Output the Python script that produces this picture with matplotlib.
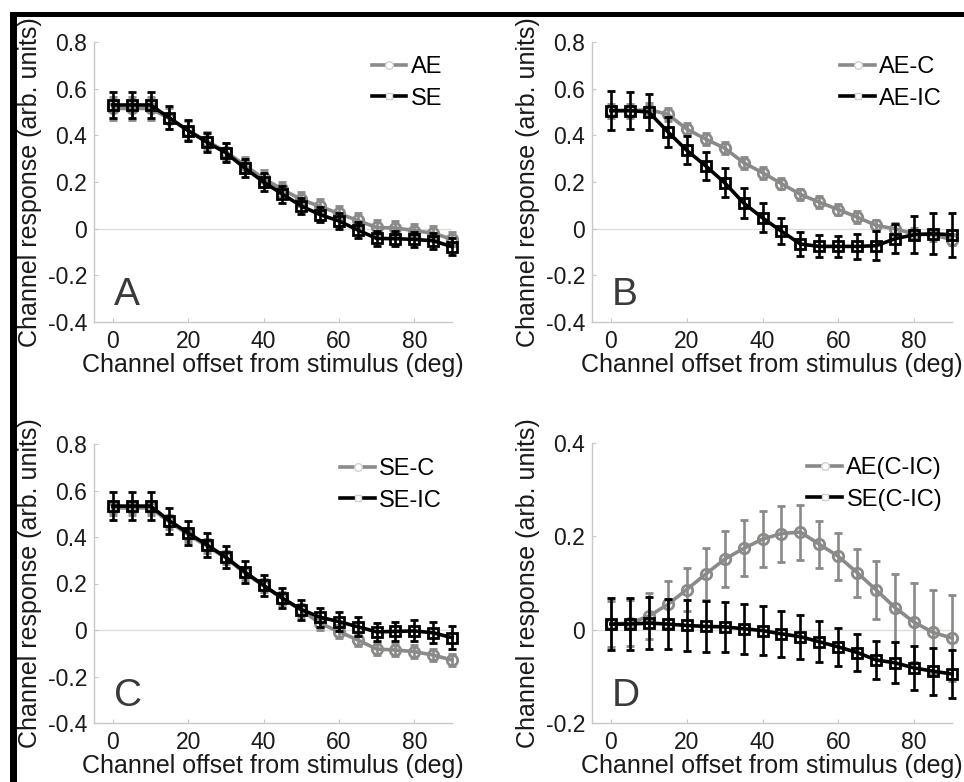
import numpy as np
import matplotlib
matplotlib.use('Agg')
from matplotlib import pyplot as plt
from matplotlib.lines import Line2D
from matplotlib.patches import Rectangle

plt.rcParams['font.family'] = ['Liberation Sans', 'DejaVu Sans']

# channel offsets (deg)
offsets = [0, 5, 10, 15, 20, 25, 30, 35, 40, 45, 50, 55, 60, 65, 70, 75, 80, 85, 90]

# panel A
ae_mean = [0.515, 0.515, 0.515, 0.472, 0.42, 0.375, 0.33, 0.272, 0.215, 0.168, 0.125, 0.095, 0.065, 0.035, 0.005, 0.003, -0.008, -0.02, -0.045]
ae_err = [0.05, 0.05, 0.05, 0.045, 0.04, 0.04, 0.035, 0.035, 0.035, 0.032, 0.03, 0.03, 0.03, 0.03, 0.03, 0.03, 0.03, 0.03, 0.03]
se_mean = [0.53, 0.53, 0.53, 0.475, 0.42, 0.37, 0.325, 0.26, 0.2, 0.148, 0.097, 0.06, 0.033, -0.006, -0.042, -0.043, -0.046, -0.052, -0.077]
se_err = [0.055, 0.055, 0.055, 0.05, 0.045, 0.042, 0.04, 0.04, 0.038, 0.036, 0.035, 0.033, 0.033, 0.033, 0.033, 0.033, 0.033, 0.035, 0.035]

# panel B
aec_mean = [0.505, 0.505, 0.51, 0.49, 0.427, 0.384, 0.345, 0.283, 0.24, 0.193, 0.147, 0.113, 0.082, 0.049, 0.014, -0.001, -0.022, -0.026, -0.047]
aec_err = [0.03, 0.03, 0.03, 0.028, 0.027, 0.027, 0.026, 0.026, 0.026, 0.025, 0.025, 0.025, 0.025, 0.025, 0.025, 0.025, 0.025, 0.025, 0.025]
aeic_mean = [0.506, 0.506, 0.5, 0.415, 0.336, 0.269, 0.197, 0.11, 0.046, -0.011, -0.066, -0.076, -0.076, -0.076, -0.073, -0.043, -0.026, -0.022, -0.026]
aeic_err = [0.085, 0.079, 0.077, 0.065, 0.06, 0.06, 0.062, 0.066, 0.062, 0.056, 0.053, 0.047, 0.045, 0.052, 0.061, 0.062, 0.079, 0.088, 0.095]

# panel C
sec_mean = [0.525, 0.525, 0.525, 0.465, 0.41, 0.36, 0.31, 0.245, 0.19, 0.135, 0.085, 0.029, -0.007, -0.043, -0.082, -0.086, -0.093, -0.108, -0.129]
sec_err = [0.03, 0.03, 0.03, 0.03, 0.03, 0.03, 0.028, 0.028, 0.028, 0.027, 0.027, 0.027, 0.027, 0.027, 0.027, 0.027, 0.027, 0.027, 0.027]
seic_mean = [0.533, 0.533, 0.533, 0.47, 0.417, 0.366, 0.313, 0.25, 0.192, 0.137, 0.088, 0.055, 0.036, 0.014, -0.008, -0.006, -0.004, -0.012, -0.033]
seic_err = [0.06, 0.06, 0.06, 0.055, 0.05, 0.05, 0.048, 0.046, 0.045, 0.044, 0.043, 0.04, 0.04, 0.04, 0.04, 0.042, 0.045, 0.045, 0.05]

# panel D
aed_mean = [0.012, 0.014, 0.029, 0.054, 0.086, 0.119, 0.151, 0.174, 0.194, 0.206, 0.209, 0.183, 0.157, 0.122, 0.085, 0.047, 0.016, -0.006, -0.018]
aed_err = [0.05, 0.05, 0.05, 0.05, 0.047, 0.055, 0.06, 0.06, 0.06, 0.06, 0.059, 0.05, 0.05, 0.051, 0.063, 0.073, 0.085, 0.09, 0.093]
sed_mean = [0.012, 0.012, 0.014, 0.012, 0.009, 0.007, 0.006, 0.002, -0.002, -0.009, -0.015, -0.026, -0.037, -0.049, -0.065, -0.071, -0.082, -0.089, -0.095]
sed_err = [0.055, 0.055, 0.056, 0.054, 0.054, 0.055, 0.054, 0.054, 0.052, 0.05, 0.047, 0.044, 0.04, 0.04, 0.041, 0.044, 0.047, 0.05, 0.052]

GRAY = '#8a8a88'
BLACK = '#000000'
AXCOL = '#c8c8c8'

W, H = 964, 782


def px_axes(fig, left, top, right, bottom):
    return fig.add_axes([left / W, 1 - bottom / H, (right - left) / W, (bottom - top) / H])


def draw_panel(ax, gm, ge, bm, be, labels, letter, yticks, ylabels):
    ax.axhline(0, color='#dcdcd8', lw=1, zorder=0)
    ax.errorbar(offsets, gm, yerr=ge, color=GRAY, lw=2.6, elinewidth=1.9, capsize=3, capthick=1.9,
                marker='o', ms=7.5, mfc='none', mec=GRAY, mew=2, clip_on=False, zorder=2)
    ax.errorbar(offsets, bm, yerr=be, color=BLACK, lw=2.6, elinewidth=1.9, capsize=3, capthick=1.9,
                marker='s', ms=7, mfc='none', mec=BLACK, mew=2, clip_on=False, zorder=3)
    ax.set_xlim(-5, 90)
    ax.set_ylim(yticks[0], yticks[-1])
    ax.set_xticks([0, 20, 40, 60, 80])
    ax.set_yticks(yticks)
    ax.set_yticklabels(ylabels)
    for s in ['top', 'right']:
        ax.spines[s].set_visible(False)
    for s in ['left', 'bottom']:
        ax.spines[s].set_color(AXCOL)
        ax.spines[s].set_linewidth(1)
    ax.tick_params(direction='in', length=3, color=AXCOL, labelsize=16.5, labelcolor='#1a1a1a')
    ax.tick_params(axis='y', pad=5)
    ax.tick_params(axis='x', pad=6)
    ax.set_xlabel('Channel offset from stimulus (deg)', fontsize=18, labelpad=0, color='#1a1a1a')
    ax.set_ylabel('Channel response (arb. units)', fontsize=18, labelpad=4, color='#1a1a1a')
    ax.text(0.055, 0.06, letter, transform=ax.transAxes, fontsize=28, color='#3a3a3a',
            ha='left', va='baseline')
    handles = [Line2D([], [], color=GRAY, lw=2.6, marker='o', ms=5.5, mfc='white', mec='#d0d0d0', mew=1),
               Line2D([], [], color=BLACK, lw=2.6, marker='s', ms=4.5, mfc='white', mec='#d0d0d0', mew=1)]
    ax.legend(handles, labels, loc='upper right', bbox_to_anchor=(1.012, 1.0), frameon=False,
              fontsize=17, handlelength=1.45, handletextpad=0.2, labelspacing=0.4, borderaxespad=0.2)


fig = plt.figure(figsize=(W / 100, H / 100), dpi=100)

ax_a = px_axes(fig, 94, 42, 452, 322)
ax_b = px_axes(fig, 592, 42, 952, 322)
ax_c = px_axes(fig, 94, 444, 452, 723)
ax_d = px_axes(fig, 592, 443, 952, 723)

ticks_main = [-0.4, -0.2, 0, 0.2, 0.4, 0.6, 0.8]
labels_main = ['-0.4', '-0.2', '0', '0.2', '0.4', '0.6', '0.8']

draw_panel(ax_a, ae_mean, ae_err, se_mean, se_err, ['AE', 'SE'], 'A', ticks_main, labels_main)
draw_panel(ax_b, aec_mean, aec_err, aeic_mean, aeic_err, ['AE-C', 'AE-IC'], 'B', ticks_main, labels_main)
draw_panel(ax_c, sec_mean, sec_err, seic_mean, seic_err, ['SE-C', 'SE-IC'], 'C', ticks_main, labels_main)
draw_panel(ax_d, aed_mean, aed_err, sed_mean, sed_err, ['AE(C-IC)', 'SE(C-IC)'], 'D',
           [-0.2, 0, 0.2, 0.4], ['-0.2', '0', '0.2', '0.4'])

# black frame lines at the top and left edges
fig.add_artist(Rectangle((10 / W, 1 - 17 / H), 1 - 10 / W, 5 / H, transform=fig.transFigure,
                         facecolor='black', edgecolor='none'))
fig.add_artist(Rectangle((10 / W, 0), 6.5 / W, 1 - 12 / H, transform=fig.transFigure,
                         facecolor='black', edgecolor='none'))

fig.savefig('out.png', dpi=100)
